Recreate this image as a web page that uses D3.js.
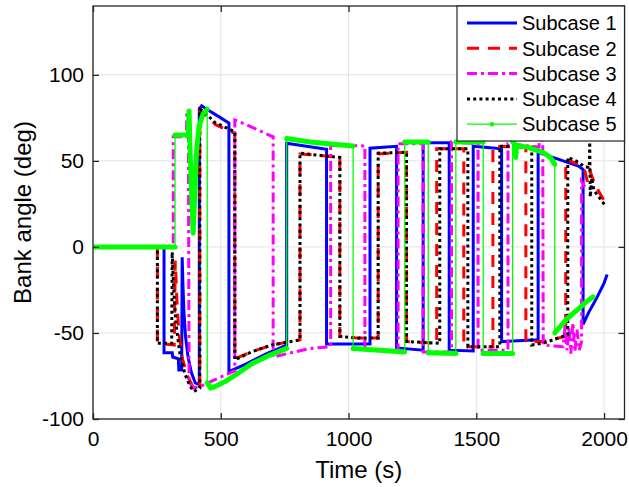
<!DOCTYPE html>
<html><head><meta charset="utf-8">
<script src="https://cdn.jsdelivr.net/npm/d3@7"></script>
<style>
body{margin:0;background:#fff}
svg{display:block}
text{font-family:"Liberation Sans",Arial,Helvetica,sans-serif;fill:#000}
</style>
</head><body>
<svg id="c" width="629" height="487"></svg>
<script>
const xTicks = [0, 500, 1000, 1500, 2000];
const yTicks = [-100, -50, 0, 50, 100];
const seriesNames = ["Subcase 1", "Subcase 2", "Subcase 3", "Subcase 4", "Subcase 5"];
const xLabel = "Time (s)";
const yLabel = "Bank angle (deg)";

// [time (s), bank angle (deg)]
const subcase1 = [[0,0],[278,0],[278,-61.5],[310,-61.5],[312,-64],[334,-65],[336,-71.5],[347,-71.5],[349,-6],[352,-22],[356,-38],[362,-52],[372,-64],[385,-73],[400,-79],[416,-80],
 [416,80],[425,82],[450,79.5],[500,75],[532,72],[532,-72.5],[600,-68],[680,-62],[758,-57],
 [758,60.3],[914,56.8],[914,-56.4],[1084,-56.4],[1084,57.4],[1188,58.5],[1188,-58.7],[1292,-60],
 [1292,60.5],[1394,60.5],[1394,-60],[1488,-60.5],[1488,58.5],[1599,57],[1599,-55],[1742,-54],
 [1742,55],[1800,52],[1860,49],[1900,47],[1918,45],[1918,-45],[1940,-38],[1970,-30],[2000,-21],[2012,-16]];

const subcase2 = [[0,0],[252,0],[252,-56],[318,-57],[322,-8],[328,-30],[336,-50],[350,-65],[370,-75],[390,-81],[405,-83],[418,-82],
 [418,79],[430,78],[480,71],[555,66],[555,-65],[620,-61],[700,-57],[810,-54],
 [810,54],[900,53],[966,52],[966,-52],[1040,-53],[1116,-53],[1116,54],[1227,55],[1227,-55],[1345,-56],
 [1345,57],[1451,57],[1451,-58],[1565,-58],[1565,58.5],[1694,58],[1694,-55],[1760,-55],[1850,-52],
 [1850,51],[1900,48],[1925,44],[1935,38],[1945,44],[1960,38],[1980,32],[2008,25]];

const subcase3 = [[0,0],[314,0],[314,64],[366,64],[367,79],[373,79],[376,-78],[390,-82],[420,-81],[480,-77],[555,-72],
 [555,73.8],[600,71],[660,67],[705,64],[705,-64],[760,-62],[850,-59],[930,-58],
 [930,59],[1000,59],[1064,58.7],[1064,-60],[1130,-60],[1194,-60],[1194,60],[1292,60],[1292,-61],[1403,-61],
 [1403,61],[1507,60],[1507,-60],[1624,-60],[1624,60],[1745,58],[1748,62],[1760,62],[1762,-57],
 [1840,-58],[1848,-45],[1855,-60],[1863,-47],[1870,-62],[1878,-44],[1886,-61],[1894,-48],[1903,-60],[1912,-55],
 [1912,38],[1925,35]];

const subcase4 = [[0,0],[252,0],[252,-56],[308,-56],[310,-3],[316,-25],[325,-45],[340,-62],[360,-74],[380,-81],[395,-84],[418,-82],
 [418,80],[430,79],[480,72],[555,67],[555,-65.7],[620,-61],[700,-57],[810,-54],
 [810,54.5],[900,53],[966,52],[966,-52],[1040,-53],[1116,-53],[1116,54.5],[1227,55],[1227,-55],[1357,-56],
 [1357,57],[1467,57],[1467,-58],[1592,-58],[1592,58.5],[1717,58],[1717,-57],[1760,-56],[1800,-54],[1858,-51],
 [1858,52],[1890,50],[1920,47],[1942,46],[1944,61],[1946,29],[1952,40],[1960,33],[1975,30],[1990,27],[2005,24]];

const subcase5 = [[0,0],[321,0],[321,65],[373,65],[376,79],[379,60],[386,30],[392,8],[398,30],[405,55],[415,70],[430,77],[447,80],
 [447,-79],[460,-82],[480,-81],[520,-78],[562,-74],[620,-68],[690,-63],[758,-59],
 [758,63],[850,61],[950,59.5],[1018,58.7],[1018,-59],[1120,-60],[1220,-61],[1220,61],[1312,61],
 [1312,-61.5],[1420,-62],[1420,61],[1527,61],[1527,-62],[1642,-62],[1642,61],[1650,60],[1654,52],[1658,59],
 [1700,58],[1760,55],[1790,52],[1807,48],[1807,-50],[1830,-46],[1860,-41],[1900,-36],[1930,-32],[1957,-29]];

const allSeries = [subcase1, subcase2, subcase3, subcase4, subcase5];
const styles = [
  {color:"#0000ff", width:3, dash:null},
  {color:"#ff0000", width:3, dash:"12,9"},
  {color:"#ff00ff", width:3, dash:"10,4,3,4"},
  {color:"#000000", width:3, dash:"3,3.2"},
  {color:"#00ff00", width:1.3, dash:null}
];

const svg = d3.select("#c");
const L = 93, R = 624.5, T = 6, B = 419;
const x = d3.scaleLinear().domain([0, 2080]).range([L, R]);
const y = d3.scaleLinear().domain([-100, 140]).range([B, T]);
const axisColor = "#262626";

svg.append("rect").attr("x",0).attr("y",0).attr("width",629).attr("height",487).attr("fill","#fff");

// grid
const grid = svg.append("g").attr("stroke","#e3e3e3").attr("stroke-width",1);
xTicks.forEach(t => grid.append("line").attr("x1",x(t)).attr("x2",x(t)).attr("y1",T).attr("y2",B));
yTicks.forEach(t => grid.append("line").attr("x1",L).attr("x2",R).attr("y1",y(t)).attr("y2",y(t)));

const defs = svg.append("defs");
defs.append("clipPath").attr("id","clip").append("rect").attr("x",L).attr("y",T).attr("width",R-L).attr("height",B-T);

const plot = svg.append("g").attr("clip-path","url(#clip)");
const line = d3.line().x(d => x(d[0])).y(d => y(d[1]));

allSeries.forEach((s, i) => {
  const st = styles[i];
  plot.append("path").datum(s).attr("d", line).attr("fill","none")
    .attr("stroke", st.color).attr("stroke-width", st.width)
    .attr("stroke-dasharray", st.dash).attr("stroke-linejoin","miter").attr("stroke-linecap","butt");
  if (i === 4) {
    // dense-marker runs (non-vertical parts) drawn thick
    let run = [];
    const runs = [];
    for (let k = 0; k < s.length; k++) {
      if (k > 0 && s[k][0] === s[k-1][0]) { if (run.length > 1) runs.push(run); run = []; }
      run.push(s[k]);
    }
    if (run.length > 1) runs.push(run);
    runs.forEach(r => plot.append("path").datum(r).attr("d", line).attr("fill","none")
      .attr("stroke", st.color).attr("stroke-width", 5).attr("stroke-linejoin","round").attr("stroke-linecap","round"));
  }
});

// box
svg.append("rect").attr("x",L).attr("y",T).attr("width",R-L).attr("height",B-T)
  .attr("fill","none").attr("stroke",axisColor).attr("stroke-width",1.3);

// axes
const ax = svg.append("g").attr("transform",`translate(0,${B})`)
  .call(d3.axisBottom(x).tickValues(xTicks).tickSize(-6).tickPadding(12).tickFormat(d3.format("d")));
const axT = svg.append("g").attr("transform",`translate(0,${T})`)
  .call(d3.axisTop(x).tickValues(xTicks).tickSize(-6).tickFormat(""));
const ay = svg.append("g").attr("transform",`translate(${L},0)`)
  .call(d3.axisLeft(y).tickValues(yTicks).tickSize(-6).tickPadding(9).tickFormat(d => String(d)));
const ayR = svg.append("g").attr("transform",`translate(${R},0)`)
  .call(d3.axisRight(y).tickValues(yTicks).tickSize(-6).tickFormat(""));
[ax, axT, ay, ayR].forEach(g => {
  g.select(".domain").remove();
  g.selectAll(".tick line").attr("stroke", axisColor).attr("stroke-width",1.3);
  g.selectAll("text").attr("fill","#000").style("font-size","21px").style("font-family","Liberation Sans, Arial, sans-serif");
});

svg.append("text").attr("x",(L+R)/2).attr("y",478).attr("text-anchor","middle").style("font-size","24px").text(xLabel);
svg.append("text").attr("transform",`translate(31,${(T+B)/2}) rotate(-90)`).attr("text-anchor","middle").style("font-size","24px").text(yLabel);

// legend
const lg = svg.append("g");
lg.append("rect").attr("x",457).attr("y",T).attr("width",R-457).attr("height",135)
  .attr("fill","#fff").attr("stroke",axisColor).attr("stroke-width",1.2);
seriesNames.forEach((name, i) => {
  const yy = 23 + i*25.3;
  const st = styles[i];
  lg.append("line").attr("x1",467).attr("x2",517).attr("y1",yy).attr("y2",yy)
    .attr("stroke",st.color).attr("stroke-width",st.width).attr("stroke-dasharray",st.dash);
  if (i === 4) lg.append("circle").attr("cx",492).attr("cy",yy).attr("r",2.3).attr("fill",st.color);
  lg.append("text").attr("x",522).attr("y",yy).attr("dy","0.36em").style("font-size","20px").text(name);
});
</script>
</body></html>
